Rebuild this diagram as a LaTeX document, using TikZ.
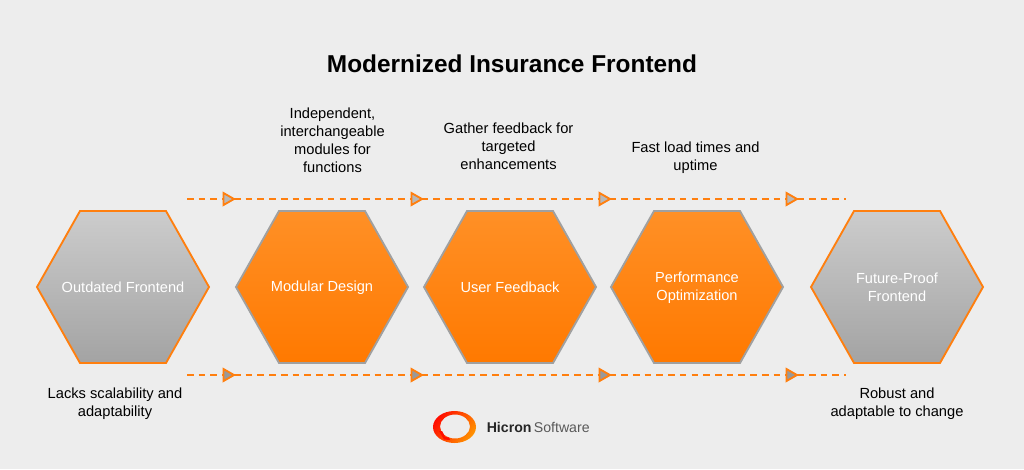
\documentclass[tikz,border=0pt]{standalone}
\usepackage{fontspec}
\setmainfont{Liberation Sans}
\usetikzlibrary{positioning,calc}
\definecolor{pagegrey}{HTML}{EDEDED}
\definecolor{hicronorange}{HTML}{FF7F0F}
\definecolor{hextop}{HTML}{FF9026}
\definecolor{hexbottom}{HTML}{FF7900}
\definecolor{edgegrey}{HTML}{A0A0A0}
\tikzset{
  hexgrey/.style={draw=hicronorange,line width=1.4pt,line join=miter,top color=black!20,bottom color=black!36},
  hexorange/.style={draw=edgegrey,line width=1.4pt,line join=miter,top color=hextop,bottom color=hexbottom},
  hexlabel/.style={text=white,align=center,font=\fontsize{10.95pt}{13.5pt}\selectfont},
  caption/.style={text=black,align=center,font=\fontsize{11pt}{13.5pt}\selectfont},
  flow/.style={draw=hicronorange,line width=1.4pt,dash pattern=on 5pt off 3.8pt},
  tipmark/.style={draw=hicronorange,line width=1.4pt,line join=miter},
}
\newcommand{\hexa}[3]{% centre x, style, name
  \path[#2] (#1-86,287) -- (#1-43,211) -- (#1+43,211) -- (#1+86,287) -- (#1+43,363) -- (#1-43,363) -- cycle;
  \coordinate (#3) at (#1,287.5);
}
\newcommand{\tipat}[3]{% x, y, fill
  \path[tipmark,fill=#3] (#1-4.5,#2-6) -- (#1+6,#2) -- (#1-4.5,#2+6) -- cycle;
}
\begin{document}
\begin{tikzpicture}[x=.75pt,y=-.75pt]
\fill[pagegrey] (0,0) rectangle (1024,469);
\useasboundingbox (0,0) rectangle (1024,469);
\node[font=\fontsize{18.3pt}{22pt}\bfseries\selectfont] (title) at (512,64) {Modernized Insurance Frontend};
% upper and lower dashed lines
\coordinate (upstart) at (187,199);
\coordinate (upend) at (846,199);
\coordinate (lowstart) at (187,375);
\coordinate (lowend) at (846,375);
\draw[flow] (upstart) -- (upend);
\draw[flow] (lowstart) -- (lowend);
\foreach \x in {228,416,604,791} {
  \tipat{\x}{199}{black!28}
  \tipat{\x}{375}{black!40}
}
% hexagons
\hexa{123}{hexgrey}{outdated}
\hexa{322}{hexorange}{modular}
\hexa{510}{hexorange}{feedback}
\hexa{697}{hexorange}{performance}
\hexa{897}{hexgrey}{future}
\node[hexlabel] (outdatedtext) at (outdated) {Outdated Frontend};
\node[hexlabel] (modulartext) at (modular) {Modular Design};
\node[hexlabel] (feedbacktext) at (feedback) {User Feedback};
\node[hexlabel] (performancetext) at (performance) {Performance\\Optimization};
\node[hexlabel] (futuretext) at (future) {Future-Proof\\Frontend};
% captions
\node[caption] (modularcap) at (332.5,140) {Independent,\\interchangeable\\modules for\\functions};
\node[caption] (feedbackcap) at (508.5,146) {Gather feedback for\\targeted\\enhancements};
\node[caption] (performancecap) at (695.5,157.5) {Fast load times and\\uptime};
\node[caption] (outdatedcap) at (115,404) {Lacks scalability and\\adaptability};
\node[caption] (futurecap) at (897,404) {Robust and\\adaptable to change};
% logo
\path[even odd rule,left color=red!90!orange,right color=orange!85!yellow,shading angle=55]
  (454.5,427) ellipse [x radius=21.5,y radius=16]
  (455,426.5) ellipse [x radius=15,y radius=12];
\fill[red!90!orange] (439,431) -- (444,439.5) -- (450,440) -- (449,437.5) -- (445,437) -- (442,431) -- cycle;
\node[anchor=west,inner sep=0pt,font=\fontsize{10.6pt}{13pt}\selectfont] (logotext) at (486.5,427.5)
  {\textbf{\textcolor{black!85}{Hicron}}\,\textcolor{black!65}{Software}};
\end{tikzpicture}
\end{document}
